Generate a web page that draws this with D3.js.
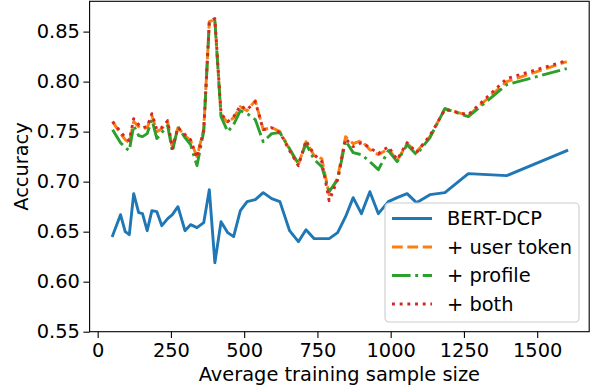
<!DOCTYPE html>
<html>
<head>
<meta charset="utf-8">
<script src="https://cdn.jsdelivr.net/npm/d3@7"></script>
<style>
  body { margin: 0; background: #fff; }
  text { font-family: "DejaVu Sans", sans-serif; fill: #000; }
</style>
</head>
<body>
<div id="chart"></div>
<script>
// training sample size (x) shared by all runs
var sampleSize = [51, 78, 94, 108, 123, 140, 153, 169, 185, 202, 219, 239, 255, 274, 298, 317, 339, 362, 381, 400,
                  421, 444, 464, 487, 510, 538, 565, 594, 622, 655, 685, 711, 739, 765, 790, 819, 846, 872, 900, 929,
                  958, 992, 1022, 1056, 1088, 1134, 1185, 1265, 1396, 1601];

var bertDcp   = [.646, .667, .650, .647, .688, .669, .668, .651, .671, .670, .656, .663, .667, .675, .651, .657, .654, .659, .692, .619,
                 .660, .649, .645, .671, .680, .682, .689, .683, .680, .651, .640, .652, .643, .643, .643, .649, .665, .684, .668, .690,
                 .668, .680, .684, .688, .679, .687, .689, .708, .706, .731];
var userToken = [.760, .748, .742, .739, .760, .755, .753, .754, .766, .750, .753, .760, .733, .754, .746, .741, .725, .752, .860, .862,
                 .767, .759, .764, .775, .771, .781, .752, .754, .750, .732, .717, .740, .726, .723, .687, .704, .745, .738, .741, .732,
                 .727, .733, .721, .738, .730, .745, .773, .766, .800, .820];
var profile   = [.752, .739, .734, .731, .756, .746, .745, .748, .762, .743, .749, .756, .730, .755, .744, .737, .716, .750, .858, .861,
                 .765, .750, .757, .771, .768, .762, .740, .748, .749, .733, .718, .738, .722, .715, .690, .702, .741, .729, .727, .720,
                 .712, .731, .720, .737, .727, .744, .773, .765, .797, .813];
var both      = [.760, .750, .744, .741, .763, .757, .754, .755, .768, .752, .754, .761, .733, .754, .747, .742, .724, .752, .860, .863,
                 .768, .760, .765, .776, .772, .780, .752, .754, .749, .731, .716, .741, .727, .720, .681, .702, .743, .735, .739, .734,
                 .728, .735, .722, .739, .729, .746, .772, .767, .803, .821];

var seriesNames = ["BERT-DCP", "+ user token", "+ profile", "+ both"];
var xTicks = [0, 250, 500, 750, 1000, 1250, 1500];
var yTicks = [0.55, 0.60, 0.65, 0.70, 0.75, 0.80, 0.85];

var W = 592, H = 392;
var plotL = 89.6, plotR = 589.2, plotT = 1.3, plotB = 331.7;
var fs = 19.4;
var lw = 2.9;

var svg = d3.select("#chart")
        .append("svg")
        .attr("width", W)
        .attr("height", H);

var x = d3.scaleLinear().domain([-27.5, 1677.5]).range([plotL, plotR]);
var y = d3.scaleLinear().domain([0.55, 0.8803]).range([plotB, plotT]);

var styles = [
  {color: "#1f77b4", dash: null},
  {color: "#ff7f0e", dash: [3.7 * lw, 1.6 * lw]},
  {color: "#2ca02c", dash: [6.4 * lw, 1.6 * lw, 1 * lw, 1.6 * lw]},
  {color: "#d62728", dash: [1 * lw, 1.65 * lw]}
];
var allSeries = [bertDcp, userToken, profile, both];

// clip so lines stay inside the frame
svg.append("clipPath").attr("id", "clip")
   .append("rect")
   .attr("x", plotL).attr("y", plotT)
   .attr("width", plotR - plotL).attr("height", plotB - plotT);

var lineGenerator = d3.line()
    .x(function (d) { return x(d[0]); })
    .y(function (d) { return y(d[1]); });

svg.append("g")
   .attr("clip-path", "url(#clip)")
   .selectAll("path")
   .data(allSeries)
   .enter()
   .append("path")
   .attr("d", function (s) { return lineGenerator(s.map(function (v, i) { return [sampleSize[i], v]; })); })
   .style("fill", "none")
   .style("stroke", function (s, i) { return styles[i].color; })
   .style("stroke-width", lw)
   .style("stroke-linejoin", "round")
   .style("stroke-linecap", function (s, i) { return i == 0 ? "square" : "butt"; })
   .style("stroke-dasharray", function (s, i) { return styles[i].dash ? styles[i].dash.join(",") : null; });

// axes
var tickLen = 6.2;
var xAxis = d3.axisBottom(x).tickValues(xTicks).tickSize(tickLen).tickPadding(5.5).tickFormat(d3.format("d"));
var yAxis = d3.axisLeft(y).tickValues(yTicks).tickSize(tickLen).tickPadding(3.5).tickFormat(d3.format(".2f"));

var gx = svg.append("g").attr("transform", "translate(0," + plotB + ")").call(xAxis);
var gy = svg.append("g").attr("transform", "translate(" + plotL + ",0)").call(yAxis);

[gx, gy].forEach(function (g) {
  g.select(".domain").remove();
  g.selectAll(".tick line").style("stroke", "#000").style("stroke-width", 1.1);
  g.selectAll(".tick text").style("font-size", fs + "px").style("fill", "#000");
});

// frame
svg.append("rect")
   .attr("x", plotL).attr("y", plotT)
   .attr("width", plotR - plotL).attr("height", plotB - plotT)
   .style("fill", "none")
   .style("stroke", "#000")
   .style("stroke-width", 1.1);

svg.append("text")
   .attr("x", (plotL + plotR) / 2)
   .attr("y", 381)
   .style("text-anchor", "middle")
   .style("font-size", fs + "px")
   .text("Average training sample size");

svg.append("text")
   .attr("transform", "translate(28," + ((plotT + plotB) / 2) + ") rotate(-90)")
   .style("text-anchor", "middle")
   .style("font-size", fs + "px")
   .text("Accuracy");

// legend
var lg = svg.append("g").attr("transform", "translate(385,203)");
lg.append("rect")
  .attr("width", 194).attr("height", 119)
  .attr("rx", 4).attr("ry", 4)
  .style("fill", "#fff").style("fill-opacity", 0.8)
  .style("stroke", "#ccc").style("stroke-width", 1.1);

var entries = lg.selectAll("g.entry")
  .data(seriesNames)
  .enter()
  .append("g")
  .attr("class", "entry")
  .attr("transform", function (d, i) { return "translate(0," + (15.5 + i * 28.5) + ")"; });

entries.append("line")
  .attr("x1", 7).attr("x2", 47)
  .style("stroke", function (d, i) { return styles[i].color; })
  .style("stroke-width", lw)
  .style("stroke-dasharray", function (d, i) { return styles[i].dash ? styles[i].dash.join(",") : null; });

entries.append("text")
  .attr("x", 62)
  .attr("dy", "0.36em")
  .style("font-size", fs + "px")
  .text(function (d) { return d; });
</script>
</body>
</html>
